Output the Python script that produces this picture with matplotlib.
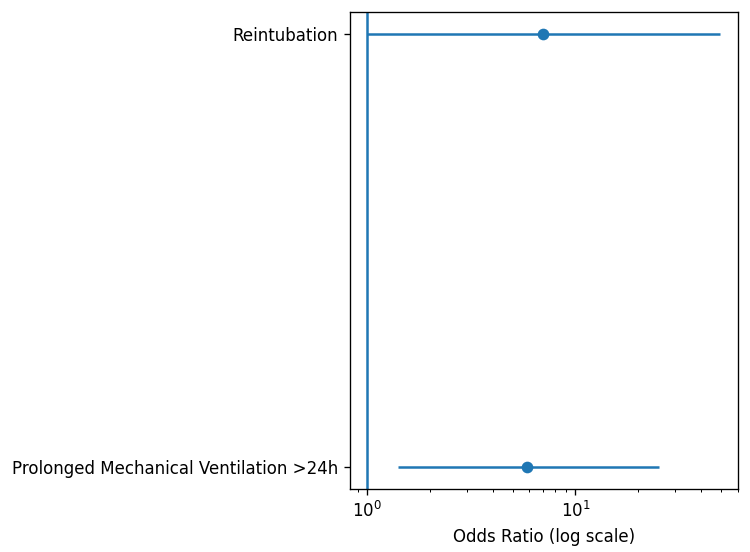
import matplotlib
matplotlib.use("Agg")
import matplotlib.pyplot as plt
import numpy as np

# forest plot data
outcomes = ["Prolonged Mechanical Ventilation >24h", "Reintubation"]
odds_ratio = [5.87, 7.0]
ci_lower = [1.40, 1.0]
ci_upper = [25.2, 49.6]

y = np.arange(len(outcomes))
err_low = np.array(odds_ratio) - np.array(ci_lower)
err_high = np.array(ci_upper) - np.array(odds_ratio)

dpi = 120
fig, ax = plt.subplots(figsize=(750 / dpi, 552 / dpi), dpi=dpi)
ax.errorbar(odds_ratio, y, xerr=[err_low, err_high], fmt='o', color="tab:blue")
ax.axvline(1, color="tab:blue")
ax.set_xscale("log")
ax.set_yticks(y)
ax.set_yticklabels(outcomes)
ax.set_xlabel("Odds Ratio (log scale)")

plt.subplots_adjust(left=0.466, right=0.984, top=0.978, bottom=0.114)
plt.savefig("out.png", dpi=dpi)
